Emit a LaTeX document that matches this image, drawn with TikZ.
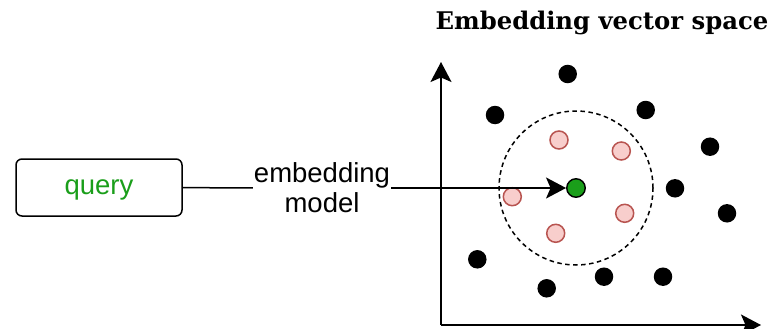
\documentclass[tikz,border=0pt]{standalone}
\usepackage{fontspec}
\newfontfamily\labelfont{Liberation Sans}
\newfontfamily\titlefont{DejaVu Serif}
\usepackage{xcolor}
\usepackage{tikz}
\usetikzlibrary{positioning,arrows.meta}

\definecolor{querygreen}{HTML}{1A9E1A}
\definecolor{nearfill}{HTML}{F8CECC}
\definecolor{nearline}{HTML}{B85450}

\begin{document}
\begin{tikzpicture}[x=1pt, y=-1pt,
    tip/.style={-{Stealth[length=20pt, width=21pt, inset=4.5pt]}},
    dot/.style={circle, inner sep=0pt, minimum size=18.5pt, fill=black},
    near/.style={circle, inner sep=0pt, minimum size=18pt, draw=nearline, line width=1.5pt, fill=nearfill},
    txt/.style={font=\labelfont\fontsize{27.5}{30}\selectfont}]
    \useasboundingbox (0,0) rectangle (779,329);

    % input side
    \node[txt, draw, rounded corners=6pt, line width=1.5pt, minimum width=166pt, minimum height=57pt, text depth=0pt, text=querygreen] (query) at (99,187.5) {query};
    \node[txt, align=center, inner sep=1pt] (model) at (322,188) {embedding\\model};

    % vector space
    \node[font=\titlefont\bfseries\fontsize{24.3}{28}\selectfont] (title) at (602,23) {Embedding vector space};
    \coordinate (origin) at (441,325);
    \coordinate (ytop) at (441,62);
    \coordinate (xend) at (761,325);
    \draw[tip, line width=1.6pt] (origin) -- (ytop);
    \draw[tip, line width=1.6pt] (origin) -- (xend);

    \coordinate (centre) at (576,188);
    \draw[dashed, dash pattern=on 4.5pt off 3.5pt, line width=1.5pt] (centre) circle[radius=77pt];

    % other vectors
    \node[dot] (d1) at (567.7,74) {};   \node[dot] (d2) at (495,115) {};
    \node[dot] (d3) at (645.7,110) {};  \node[dot] (d4) at (710,146.7) {};
    \node[dot] (d5) at (675,188.3) {};  \node[dot] (d6) at (727,213.3) {};
    \node[dot] (d7) at (477.3,259.3) {};\node[dot] (d8) at (546.7,288.3) {};
    \node[dot] (d9) at (604,276.7) {};  \node[dot] (d10) at (663,276.7) {};

    % nearest neighbours
    \node[near] (n1) at (559,140) {};   \node[near] (n2) at (621.3,151) {};
    \node[near] (n3) at (512.3,196.7) {};\node[near] (n4) at (624.7,213.3) {};
    \node[near] (n5) at (555.7,233.3) {};

    % query vector
    \node[dot, fill=querygreen, draw=black, line width=1.4pt] (qvec) at (centre) {};

    \draw[line width=1.5pt] (query) -- (model);
    \draw[tip, line width=1.5pt] (model) -- (qvec);
\end{tikzpicture}
\end{document}
